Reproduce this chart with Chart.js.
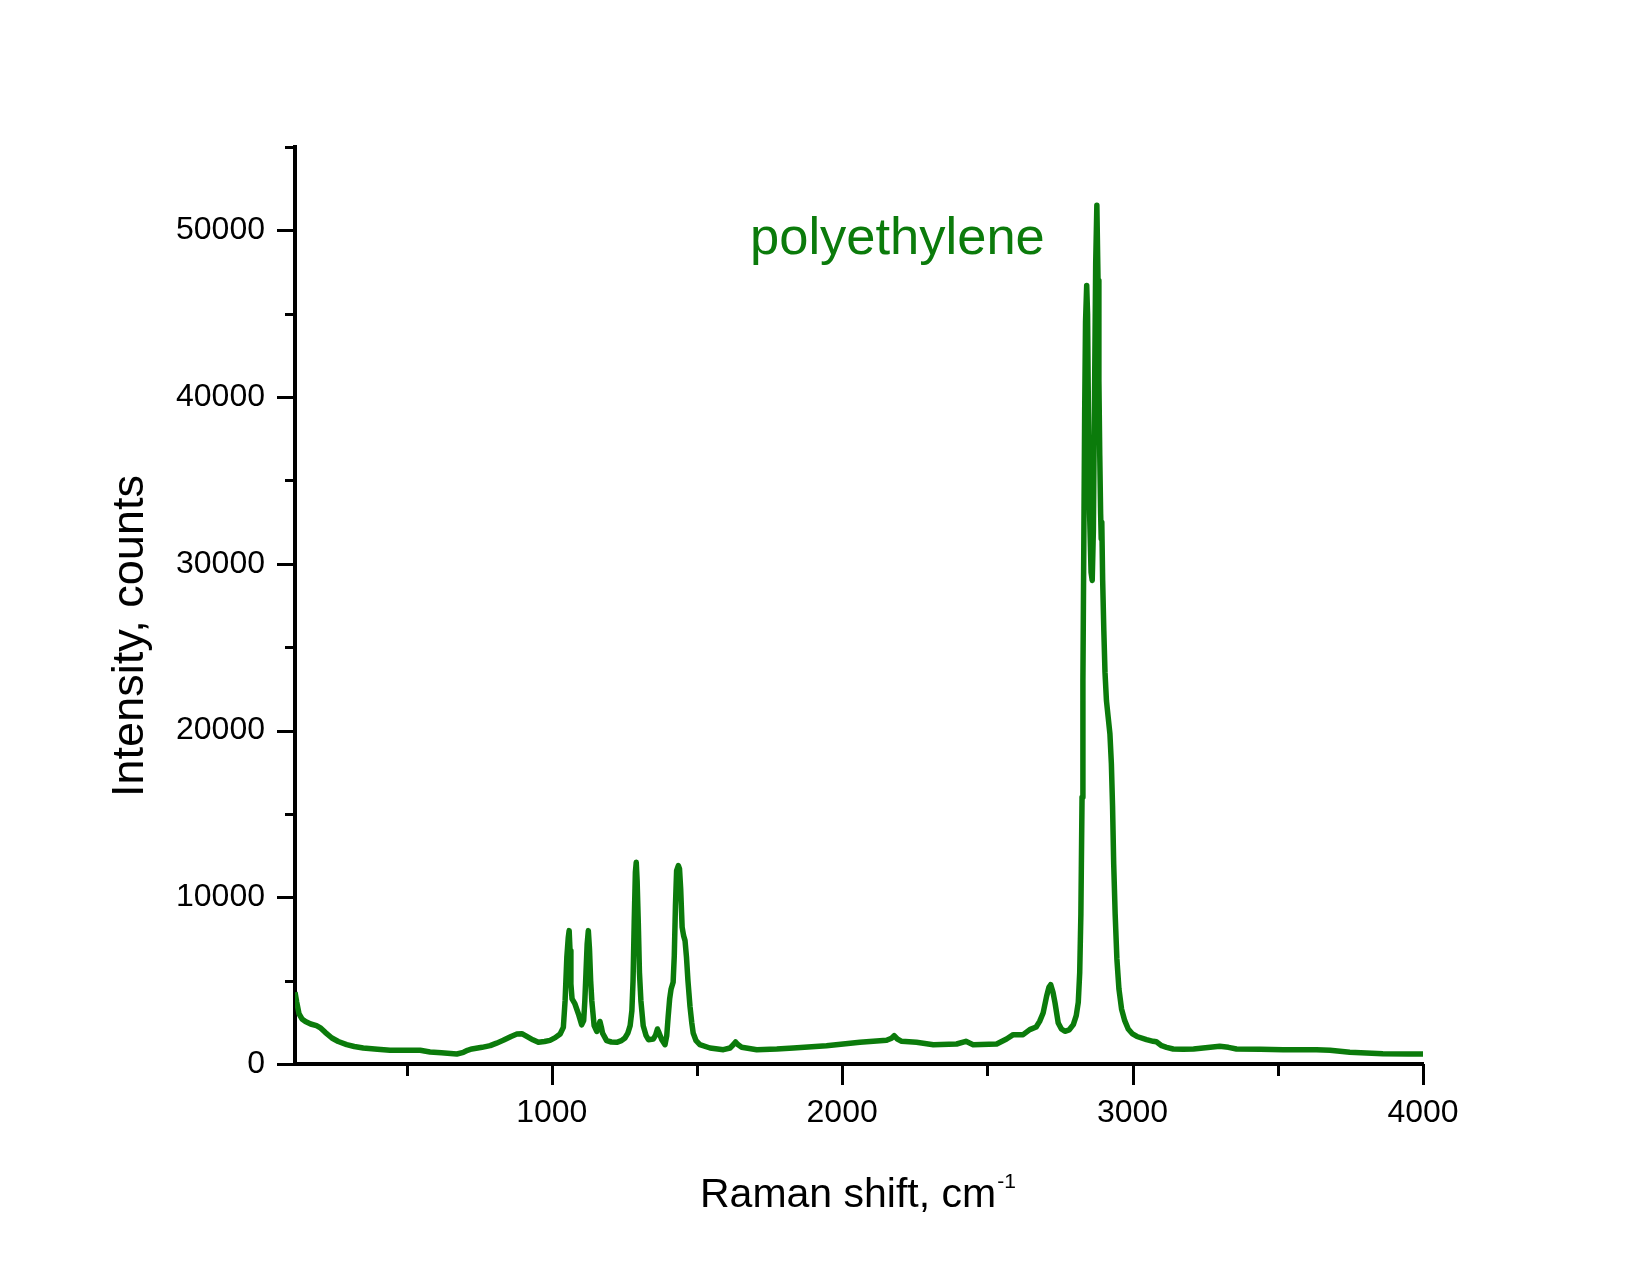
<!DOCTYPE html>
<html>
<head>
<meta charset="utf-8">
<title>Raman spectrum - polyethylene</title>
<script src="https://cdn.jsdelivr.net/npm/chart.js@4.4.0/dist/chart.umd.min.js"></script>
<style>
  html, body { margin: 0; padding: 0; background: #fff; }
  #wrap { width: 1650px; height: 1275px; }
</style>
</head>
<body>
<div id="wrap"><canvas id="spectrum" width="1650" height="1275"></canvas></div>
<script>
// Raman shift (cm-1) and intensity (counts)
const shift = [
  116, 122, 130, 140, 152, 170, 190, 205, 220, 243, 265, 294, 320, 351, 400, 443, 500, 547,
  581, 620, 673, 696, 710, 725, 760, 788, 810, 833, 860, 880, 897, 914, 935, 954, 975, 994,
  1012, 1029, 1040, 1046, 1052, 1057, 1060, 1063, 1066, 1070, 1080, 1092, 1103, 1110, 1114,
  1118, 1122, 1126, 1130, 1134, 1138, 1146, 1155, 1160, 1166, 1171, 1175, 1189, 1205, 1224,
  1240, 1252, 1262, 1270, 1276, 1280, 1284, 1288, 1291, 1294, 1298, 1302, 1307, 1315, 1325,
  1333, 1350, 1358, 1364, 1370, 1379, 1390, 1396, 1401, 1406, 1411, 1418, 1422, 1426, 1430,
  1436, 1440, 1444, 1449, 1454, 1459, 1464, 1469, 1476, 1482, 1487, 1497, 1510, 1545, 1591,
  1614, 1625, 1633, 1642, 1654, 1706, 1775, 1832, 1946, 2061, 2153, 2170, 2179, 2190, 2205,
  2256, 2314, 2394, 2426, 2451, 2532, 2566, 2589, 2623, 2646, 2668, 2680, 2692, 2704, 2712,
  2718, 2726, 2733, 2744, 2755, 2767, 2782, 2796, 2806, 2813, 2818, 2822, 2826, 2829, 2832,
  2835, 2838, 2842, 2845, 2848, 2852, 2857, 2861, 2865, 2869, 2873, 2877, 2881, 2884, 2887,
  2890, 2892, 2894, 2897, 2901, 2905, 2910, 2916, 2922, 2927, 2931, 2935, 2940, 2946, 2953,
  2962, 2973, 2985, 3000, 3015, 3048, 3071, 3082, 3100, 3117, 3140, 3174, 3210, 3243, 3300,
  3330, 3358, 3440, 3518, 3633, 3680, 3748, 3862, 3950, 4000
];
const counts = [
  4300, 3700, 3000, 2700, 2550, 2400, 2300, 2150, 1900, 1560, 1350, 1160, 1050, 960, 880, 820, 820, 820,
  720, 670, 600, 700, 820, 900, 1000, 1100, 1250, 1420, 1650, 1800, 1820, 1650, 1450, 1300, 1350, 1420,
  1580, 1800, 2200, 3800, 6400, 7600, 8000, 6800, 4800, 3900, 3600, 3000, 2350, 2600, 3800,
  5500, 7200, 8000, 6900, 5000, 3800, 2300, 1950, 2200, 2550, 2200, 1850, 1400, 1320, 1300,
  1400, 1560, 1850, 2300, 3200, 5000, 8500, 11500, 12100, 11000, 8500, 5500, 3800, 2300, 1700,
  1460, 1500, 1750, 2100, 1850, 1450, 1160, 1700, 2860, 3900, 4500, 4900, 6500, 9500, 11600,
  11900, 11700, 10500, 8200, 7700, 7400, 6400, 5000, 3460, 2500, 1860, 1400, 1160, 960, 860,
  960, 1150, 1320, 1150, 1000, 860, 900, 960, 1100, 1300, 1420, 1550, 1700, 1500, 1360,
  1300, 1160, 1200, 1360, 1160, 1200, 1500, 1760, 1760, 2060, 2220, 2560, 3060, 4060, 4600,
  4760, 4300, 3660, 2460, 2100, 1960, 2050, 2360, 2900, 3700, 5500, 9000, 16000, 23000, 31000,
  39000, 44500, 46700, 45000, 39000, 33000, 29500, 29000, 32000, 40000, 48000, 51500, 47000, 41000, 36500,
  33000, 31500, 32500, 29000, 26000, 23500, 21800, 20800, 19800, 18000, 15500, 12000, 9000, 6300, 4500,
  3300, 2600, 2100, 1800, 1650, 1460, 1360, 1330, 1100, 1000, 900, 880, 900, 960, 1060,
  1000, 900, 880, 860, 860, 820, 700, 620, 600, 600
];

// axis ticks: every entry gets a tick mark, only the labelled ones get text
const xTicks = [500, 1000, 1500, 2000, 2500, 3000, 3500, 4000];
const xLabelled = [1000, 2000, 3000, 4000];
const yTicks = [0, 5000, 10000, 15000, 20000, 25000, 30000, 35000, 40000, 45000, 50000, 55000];
const yLabelled = [0, 10000, 20000, 30000, 40000, 50000];

const green = '#0b7b0b';
const fontFamily = '"Liberation Sans", Arial, sans-serif';

const points = shift.map((s, i) => ({ x: s, y: counts[i] }));

// tick marks with two lengths, plus the free-standing texts
const decor = {
  id: 'decor',
  afterDraw(chart) {
    const { ctx, chartArea: area, scales } = chart;
    const x = scales.x, y = scales.y;
    ctx.save();
    ctx.strokeStyle = '#000';
    ctx.lineWidth = 3;
    ctx.beginPath();
    xTicks.forEach(v => {
      const px = Math.round(x.getPixelForValue(v)) + 0.5;
      const len = xLabelled.includes(v) ? 21 : 12;
      ctx.moveTo(px, area.bottom);
      ctx.lineTo(px, area.bottom + len);
    });
    yTicks.forEach(v => {
      const py = Math.round(y.getPixelForValue(v)) + 0.5;
      const len = yLabelled.includes(v) ? 18 : 10;
      ctx.moveTo(area.left, py);
      ctx.lineTo(area.left - len, py);
    });
    ctx.stroke();

    // x axis title with superscript
    ctx.fillStyle = '#000';
    ctx.textBaseline = 'alphabetic';
    ctx.textAlign = 'left';
    ctx.font = '41px ' + fontFamily;
    const main = 'Raman shift, cm';
    ctx.fillText(main, 700, 1207);
    const w = ctx.measureText(main).width;
    ctx.font = '21px ' + fontFamily;
    ctx.fillText('-1', 700 + w + 1, 1188);

    // y axis title
    ctx.save();
    ctx.translate(143, 636);
    ctx.rotate(-Math.PI / 2);
    ctx.textAlign = 'center';
    ctx.font = '45px ' + fontFamily;
    ctx.fillText('Intensity, counts', 0, 0);
    ctx.restore();

    // sample label
    ctx.fillStyle = green;
    ctx.textAlign = 'left';
    ctx.font = '52.5px ' + fontFamily;
    ctx.fillText('polyethylene', 750, 254);
    ctx.restore();
  }
};

const ctx = document.getElementById('spectrum');
const spectrumChart = new Chart(ctx, {
  type: 'line',
  data: {
    datasets: [{
      label: 'polyethylene',
      data: points,
      borderColor: green,
      borderWidth: 5.5,
      pointRadius: 0,
      tension: 0,
      fill: false,
      borderJoinStyle: 'round'
    }]
  },
  options: {
    responsive: false,
    animation: false,
    devicePixelRatio: 1,
    layout: { padding: { left: 0, right: 227, top: 147, bottom: 0 } },
    plugins: {
      legend: { display: false },
      tooltip: { enabled: false },
      title: { display: false }
    },
    scales: {
      x: {
        type: 'linear',
        min: 116,
        max: 4000,
        grid: { display: false, drawTicks: false },
        border: { display: true, color: '#000', width: 4 },
        afterBuildTicks: scale => { scale.ticks = xTicks.map(v => ({ value: v })); },
        afterFit: scale => { scale.height = 211; },
        ticks: {
          padding: 30,
          maxRotation: 0,
          autoSkip: false,
          color: '#000',
          font: { family: fontFamily, size: 32 },
          callback: v => xLabelled.includes(v) ? String(v) : ''
        }
      },
      y: {
        type: 'linear',
        min: 0,
        max: 55000,
        grid: { display: false, drawTicks: false },
        border: { display: true, color: '#000', width: 4 },
        afterBuildTicks: scale => { scale.ticks = yTicks.map(v => ({ value: v })); },
        afterFit: scale => { scale.width = 295; },
        ticks: {
          padding: 30,
          autoSkip: false,
          color: '#000',
          font: { family: fontFamily, size: 32 },
          callback: v => yLabelled.includes(v) ? String(v) : ''
        }
      }
    }
  },
  plugins: [decor]
});
</script>
</body>
</html>
